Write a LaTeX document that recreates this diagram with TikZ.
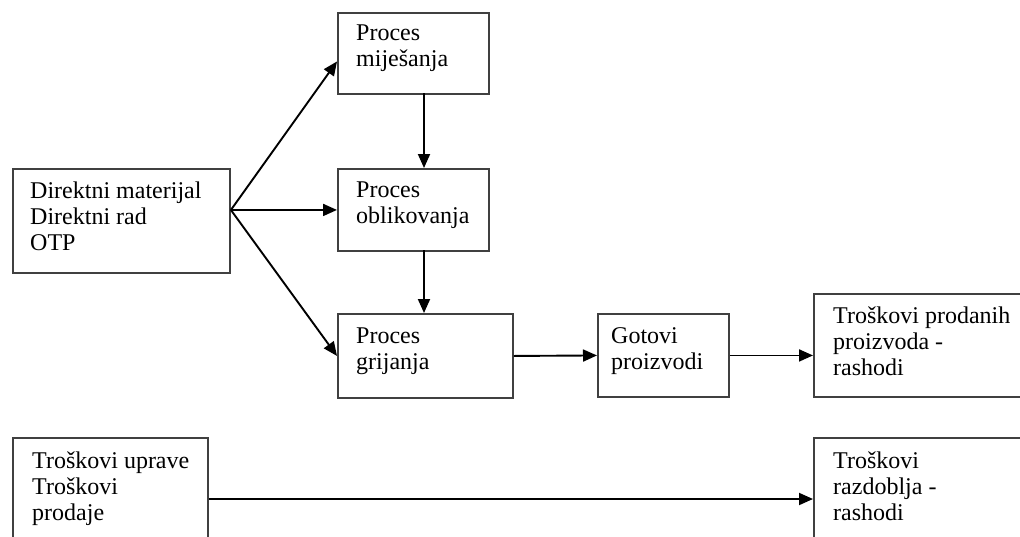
\documentclass[tikz,border=0pt]{standalone}
\usepackage{fontspec}
\setmainfont{Liberation Serif}
\usetikzlibrary{arrows.meta,calc}
\tikzset{
  box/.style={draw=black!75, line width=1.9pt, rectangle, inner sep=0pt, anchor=north west},
  lbl/.style={anchor=north west, inner sep=0pt, align=left, text=black, font=\fontsize{24}{26}\selectfont},
  arr/.style={draw=black, line width=1.9pt, -{Triangle[length=14pt,width=12pt]}}
}
\newcommand{\fl}{\rule{0pt}{18pt}}
\begin{document}
\begin{tikzpicture}[x=1pt,y=-1pt]
\useasboundingbox (0,0) rectangle (1020,536);
\clip (0,0) rectangle (1020,536);
% boxes
\node[box, minimum width=217pt, minimum height=104pt] (dir) at (12,168) {};
\node[box, minimum width=151pt, minimum height=81pt] (mix) at (337,12) {};
\node[box, minimum width=151pt, minimum height=82pt] (obl) at (337,168) {};
\node[box, minimum width=175pt, minimum height=84pt] (gri) at (337,313) {};
\node[box, minimum width=131pt, minimum height=83pt] (got) at (597,313) {};
\node[box, minimum width=230pt, minimum height=103pt] (tpp) at (813,293) {};
\node[box, minimum width=195pt, minimum height=130pt] (upr) at (12,437) {};
\node[box, minimum width=230pt, minimum height=130pt] (raz) at (813,437) {};
% labels
\node[lbl] (dirt) at (30,180) {\fl Direktni materijal\\Direktni rad\\OTP};
\node[lbl] (mixt) at (356,22) {\fl Proces\\miješanja};
\node[lbl] (oblt) at (356,179) {\fl Proces\\oblikovanja};
\node[lbl] (grit) at (356,325) {\fl Proces\\grijanja};
\node[lbl] (gott) at (611,325) {\fl Gotovi\\proizvodi};
\node[lbl] (tppt) at (833,305) {\fl Troškovi prodanih\\proizvoda -\\rashodi};
\node[lbl] (uprt) at (32,450) {\fl Troškovi uprave\\Troškovi\\prodaje};
\node[lbl] (razt) at (833,450) {\fl Troškovi\\razdoblja -\\rashodi};
% connector points
\coordinate (src) at (dir.east |- obl.west);
\coordinate (mixin) at ($(mix.west)+(0,8)$);
\coordinate (vx1) at (424,93);
\coordinate (vx2) at (424,168);
\coordinate (vx3) at (424,250);
\coordinate (vx4) at (424,313);
% arrows
\draw[arr] (src) -- (mixin);
\draw[arr] (src) -- (obl.west);
\draw[arr] (src) -- (gri.west);
\draw[arr] (vx1) -- (vx2);
\draw[arr] (vx3) -- (vx4);
\draw[arr] (gri.east) -- (got.west);
\draw[arr] (got.east) -- (tpp.west |- got.east);
\draw[arr] (upr.east |- 0,499) -- (raz.west |- 0,499);
\end{tikzpicture}
\end{document}
